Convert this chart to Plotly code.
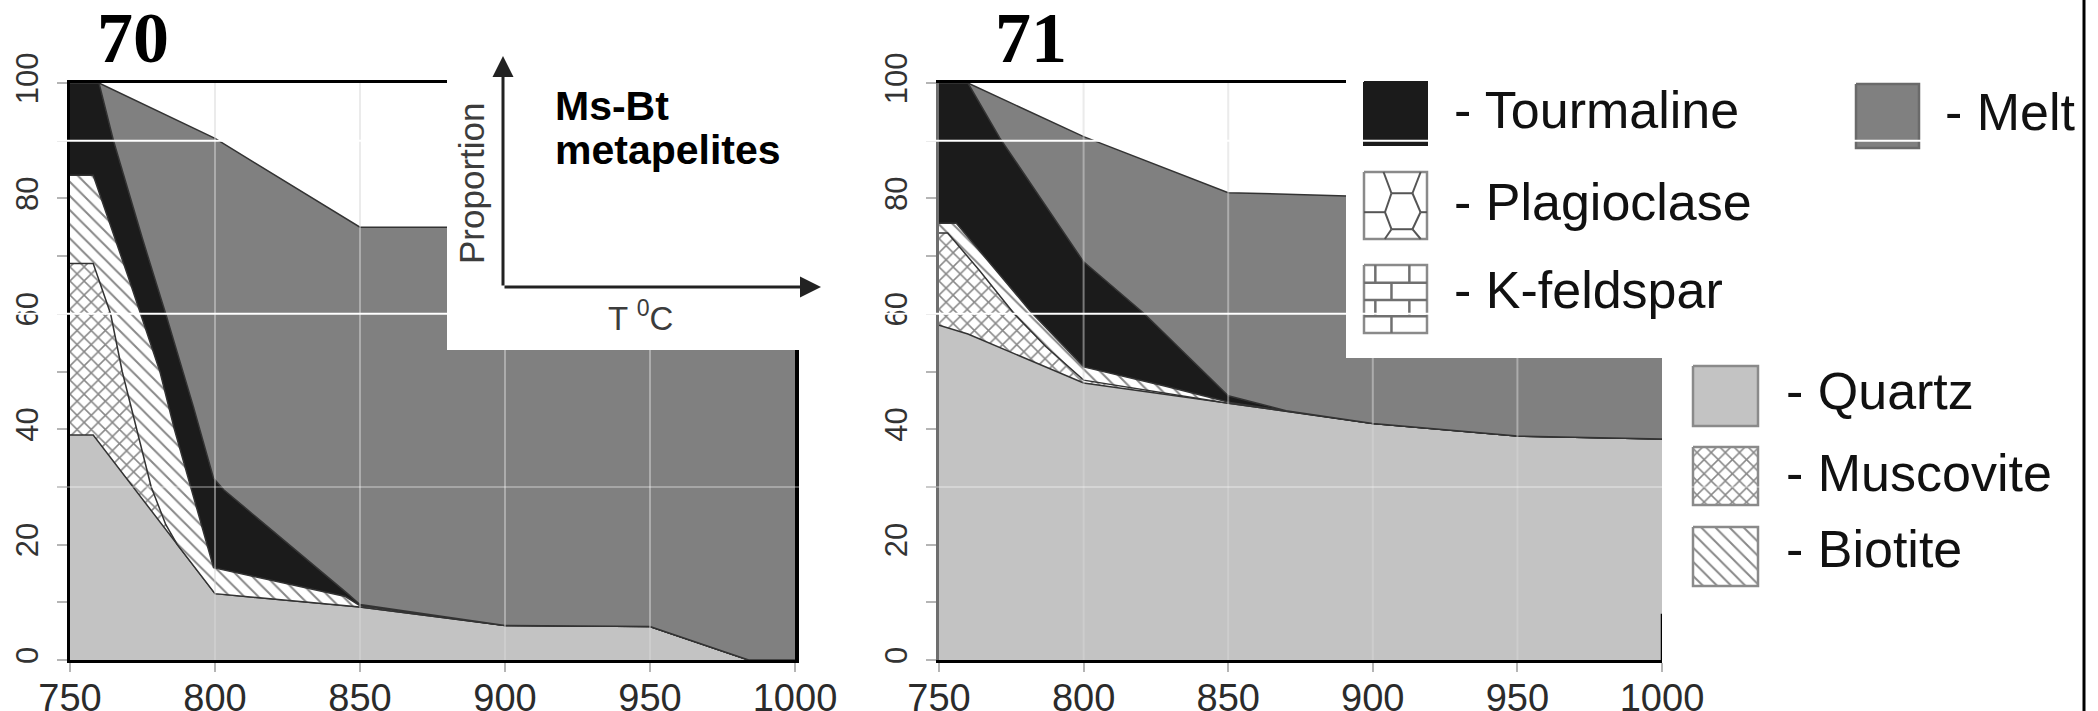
import plotly.graph_objects as go

# ------------------------------------------------------------------
# DATA: cumulative upper boundary (%) of each
# mineral layer versus temperature (deg C); layers stacked bottom->top
# ------------------------------------------------------------------
# Sample 70 (left panel)
T70_QUARTZ = [750, 758, 800, 850, 900, 950, 984, 1000]
Y70_QUARTZ = [39, 39, 11.5, 9.2, 6, 5.8, 0, 0]

T70_MUSCOVITE = [750, 758, 764, 768, 773, 778, 783, 787, 800, 850, 900, 950, 984, 1000]
Y70_MUSCOVITE = [68.7, 68.7, 60, 50, 40, 30, 23.5, 20, 11.5, 9.2, 6, 5.8, 0, 0]

T70_BIOTITE = [750, 758, 770, 781, 786, 799.5, 845, 850, 900, 950, 984, 1000]
Y70_BIOTITE = [84, 84, 66.5, 50, 40, 16, 11, 9.4, 6, 5.8, 0, 0]

T70_TOURMALINE = [750, 760, 765, 775, 783, 792.5, 799.5, 803, 845.5, 850, 900, 950, 984, 1000]
Y70_TOURMALINE = [100, 100, 90, 73, 60, 44, 31.5, 29.5, 11.6, 9.6, 6, 5.8, 0, 0]

T70_MELT = [750, 760, 800, 850, 1000]
Y70_MELT = [100, 100, 90.4, 75, 75]

# Sample 71 (right panel)
T71_QUARTZ = [750, 760, 800, 850, 900, 950, 1000]
Y71_QUARTZ = [58, 56.5, 48, 44.5, 41, 38.8, 38.3]

T71_MUSCOVITE = [750, 753, 764, 776, 787, 800, 850, 900, 950, 1000]
Y71_MUSCOVITE = [74, 74, 67.5, 60, 54.3, 48.5, 44.5, 41, 38.8, 38.3]

T71_BIOTITE = [750, 756, 781.5, 800, 828, 851, 900, 950, 1000]
Y71_BIOTITE = [75.7, 75.7, 60.5, 50.8, 47.5, 44.6, 41, 38.8, 38.3]

T71_TOURMALINE = [750, 760, 771, 800, 821, 850, 870, 900, 950, 1000]
Y71_TOURMALINE = [100, 100, 90.5, 69, 60, 45.8, 43.2, 41, 38.8, 38.3]

T71_MELT = [750, 760, 800, 850, 900, 1000]
Y71_MELT = [100, 100, 90.7, 81, 80.3, 80]

X_TICKS = [750, 800, 850, 900, 950, 1000]
Y_TICKS = [0, 20, 40, 60, 80, 100]
Y_MINOR = [10, 30, 50, 70, 90]
X_GRID = [800, 850, 900, 950]
PANEL_LABELS = ["70", "71"]
LEGEND_COL1 = ["Tourmaline", "Plagioclase", "K-feldspar"]
LEGEND_COL2 = ["Melt"]
LEGEND_COL3 = ["Quartz", "Muscovite", "Biotite"]

# ------------------------------------------------------------------
# STYLE / GEOMETRY
# ------------------------------------------------------------------
W, H = 2098, 711
PX_L = (70, 795)      # left panel plot area x (px)
PX_R = (939, 1662)    # right panel plot area x (px)
PY = (83, 660)        # plot area y top/bottom (px)

C_QTZ = "#c3c3c3"
C_MELT = "#808080"
C_TOUR = "#1b1b1b"
EDGE = "#333333"
SANS = "Liberation Sans, Arial, sans-serif"
NARROW = "Liberation Sans Narrow, Arial Narrow, Liberation Sans, Arial, sans-serif"

PAT_MS = dict(shape="x", bgcolor="white", fgcolor="#111111", size=10, solidity=0.28)
PAT_BT = dict(shape="\\", bgcolor="white", fgcolor="#111111", size=10, solidity=0.2)


def dom_x(px):
    return [px[0] / W, px[1] / W]


DOM_Y = [(H - PY[1]) / H, (H - PY[0]) / H]

fig = go.Figure()


def add_panel(xa, ya, layers):
    for i, (xs, ys, col, pat) in enumerate(layers):
        kw = dict(fillcolor=col)
        if pat is not None:
            kw["fillpattern"] = pat
        fig.add_trace(go.Scatter(
            x=xs, y=ys, xaxis=xa, yaxis=ya, mode="lines",
            line=dict(color=EDGE, width=1.5),
            fill="tozeroy" if i == 0 else "tonexty",
            showlegend=False, hoverinfo="skip", **kw))
    # light vertical reference lines drawn over the areas
    gx, gy = [], []
    for v in X_GRID:
        gx += [v, v, None]
        gy += [0, 100, None]
    fig.add_trace(go.Scatter(x=gx, y=gy, xaxis=xa, yaxis=ya, mode="lines",
                             line=dict(color="rgba(215,215,215,0.5)", width=2),
                             showlegend=False, hoverinfo="skip"))


add_panel("x", "y", [
    (T70_QUARTZ, Y70_QUARTZ, C_QTZ, None),
    (T70_MUSCOVITE, Y70_MUSCOVITE, "white", PAT_MS),
    (T70_BIOTITE, Y70_BIOTITE, "white", PAT_BT),
    (T70_TOURMALINE, Y70_TOURMALINE, C_TOUR, None),
    (T70_MELT, Y70_MELT, C_MELT, None),
])
add_panel("x2", "y2", [
    (T71_QUARTZ, Y71_QUARTZ, C_QTZ, None),
    (T71_MUSCOVITE, Y71_MUSCOVITE, "white", PAT_MS),
    (T71_BIOTITE, Y71_BIOTITE, "white", PAT_BT),
    (T71_TOURMALINE, Y71_TOURMALINE, C_TOUR, None),
    (T71_MELT, Y71_MELT, C_MELT, None),
])

# ------------------------------------------------------------------
# overlay (pixel-coordinate) layer: white inset / legend boxes + swatches
# ------------------------------------------------------------------
def rect(x0, y0, x1, y1, fill, line_col=None, lw=0, pattern=None):
    kw = dict(fillcolor=fill)
    if pattern is not None:
        kw["fillpattern"] = pattern
    fig.add_trace(go.Scatter(
        x=[x0, x1, x1, x0, x0], y=[y0, y0, y1, y1, y0], xaxis="x3", yaxis="y3",
        mode="lines", fill="toself",
        line=dict(color=line_col or fill, width=lw),
        showlegend=False, hoverinfo="skip", **kw))


def segs(pairs, x0, y0, x1, y1, color="#707070", width=2):
    xs, ys = [], []
    for (u0, w0), (u1, w1) in pairs:
        xs += [x0 + u0 * (x1 - x0), x0 + u1 * (x1 - x0), None]
        ys += [y0 + w0 * (y1 - y0), y0 + w1 * (y1 - y0), None]
    fig.add_trace(go.Scatter(x=xs, y=ys, xaxis="x3", yaxis="y3", mode="lines",
                             line=dict(color=color, width=width),
                             showlegend=False, hoverinfo="skip"))


# inset box (left panel) and legend box (right panel)
rect(447, 0, 830, 350, "white")
rect(1346, 0, 2098, 358, "white")

SW = 63  # swatch size (px)
COL1_X, COL2_X, COL3_X = 1364, 1856, 1693
ROW1_Y = [82, 172, 265]
ROW3_Y = [366, 447, 527]

# legend column 1: Tourmaline, Plagioclase, K-feldspar
rect(COL1_X, ROW1_Y[0], COL1_X + SW, ROW1_Y[0] + SW, C_TOUR, C_TOUR, 2)
rect(COL1_X, ROW1_Y[1], COL1_X + SW, ROW1_Y[1] + 67, "white", "#8a8a8a", 2.5)
hexv = [(0.436, 0.317), (0.769, 0.317), (0.897, 0.6), (0.769, 0.854), (0.436, 0.854), (0.333, 0.6)]
hex_pairs = [(hexv[i], hexv[(i + 1) % 6]) for i in range(6)]
hex_pairs += [(hexv[0], (0.31, 0.0)), (hexv[1], (0.9, 0.0)), (hexv[5], (0.0, 0.6)),
              (hexv[2], (1.0, 0.6)), (hexv[4], (0.33, 1.0)), (hexv[3], (0.9, 1.0))]
segs(hex_pairs, COL1_X, ROW1_Y[1], COL1_X + SW, ROW1_Y[1] + 67, "#555555", 2)
rect(COL1_X, ROW1_Y[2], COL1_X + SW, ROW1_Y[2] + 68, "white", "#8a8a8a", 2.5)
brick = []
rows = [0.0, 0.262, 0.514, 0.752, 1.0]
for w in rows[1:-1]:
    brick.append(((0, w), (1, w)))
for r in range(4):
    cols = [0.18, 0.72] if r % 2 == 0 else [0.436]
    for u in cols:
        brick.append(((u, rows[r]), (u, rows[r + 1])))
segs(brick, COL1_X, ROW1_Y[2], COL1_X + SW, ROW1_Y[2] + 68, "#707070", 2.5)

# legend column 2: Melt
rect(COL2_X, 84, COL2_X + SW, 84 + 64, C_MELT, "#6a6a6a", 2.5)

# legend column 3: Quartz, Muscovite, Biotite
rect(COL3_X, ROW3_Y[0], COL3_X + 65, ROW3_Y[0] + 60, C_QTZ, "#8a8a8a", 2.5)
rect(COL3_X, ROW3_Y[1], COL3_X + 65, ROW3_Y[1] + 58, "white", "#8a8a8a", 2.5, PAT_MS)
rect(COL3_X, ROW3_Y[2], COL3_X + 65, ROW3_Y[2] + 59, "white", "#8a8a8a", 2.5, PAT_BT)

# ------------------------------------------------------------------
# axes
# ------------------------------------------------------------------
def xaxis(px, line_col):
    return dict(domain=dom_x(px), range=[750, 1000], tickvals=X_TICKS,
                ticks="outside", ticklen=9, tickwidth=2, tickcolor="#b5b5b5",
                showgrid=False, zeroline=False, showline=True, linecolor=line_col,
                linewidth=3, mirror=True, ticklabelstandoff=-7, automargin=False,
                tickfont=dict(family=NARROW, size=38, color="#2b2b2b"), fixedrange=True)


def yaxis(anchor, line_col, mirror):
    return dict(domain=DOM_Y, range=[0, 100], tickvals=Y_TICKS, anchor=anchor,
                ticks="outside", ticklen=10, tickwidth=2, tickcolor="#b5b5b5",
                minor=dict(tickvals=Y_MINOR, ticks="outside", ticklen=10,
                           tickwidth=2, tickcolor="#b5b5b5"),
                showgrid=False, zeroline=False, showline=True, linecolor=line_col,
                linewidth=3.5, mirror=mirror, tickangle=-90, ticklabelstandoff=6,
                automargin=False,
                tickfont=dict(family=SANS, size=31, color="#333333"), fixedrange=True)


layout = dict(
    width=W, height=H,
    margin=dict(l=0, r=0, t=0, b=0, pad=0, autoexpand=False),
    paper_bgcolor="white", plot_bgcolor="rgba(0,0,0,0)", showlegend=False,
    xaxis=xaxis(PX_L, "black"), yaxis=yaxis("x", "black", True),
    xaxis2=dict(xaxis(PX_R, "black"), anchor="y2"),
    yaxis2=yaxis("x2", "#6e6e6e", False),
    xaxis3=dict(domain=[0, 1], range=[0, W], visible=False, fixedrange=True,
                anchor="y3", automargin=False),
    yaxis3=dict(domain=[0, 1], range=[H, 0], visible=False, fixedrange=True,
                anchor="x3", automargin=False),
)
layout["xaxis"]["anchor"] = "y"
fig.update_layout(**layout)

# ------------------------------------------------------------------
# shapes drawn on top (scan lines across the figure, borders)
# ------------------------------------------------------------------
shapes = [
    dict(type="line", xref="paper", x0=0, x1=1, yref="y", y0=90, y1=90,
         line=dict(color="white", width=2), layer="above"),
    dict(type="line", xref="paper", x0=0, x1=1, yref="y", y0=60, y1=60,
         line=dict(color="white", width=2), layer="above"),
    dict(type="line", xref="paper", x0=0, x1=1, yref="y", y0=30, y1=30,
         line=dict(color="rgba(255,255,255,0.3)", width=2), layer="above"),
    dict(type="line", xref="paper", x0=2084 / W, x1=2084 / W, yref="paper", y0=0, y1=1,
         line=dict(color="black", width=3), layer="above"),
    dict(type="line", xref="x2", x0=1000, x1=1000, yref="y2", y0=0, y1=8,
         line=dict(color="black", width=2.5), layer="above"),
]
fig.update_layout(shapes=shapes)

# ------------------------------------------------------------------
# text
# ------------------------------------------------------------------
ann = []


def txt(x, y, s, size, family=SANS, color="#111111", xanchor="left", **kw):
    ann.append(dict(x=x, y=y, xref="x3", yref="y3", text=s, showarrow=False,
                    xanchor=xanchor, yanchor="middle",
                    font=dict(family=family, size=size, color=color), **kw))


SERIF = "Liberation Serif, Times New Roman, serif"
txt(133, 38, "<b>%s</b>" % PANEL_LABELS[0], 72, SERIF, "black", "center")
txt(1031, 38, "<b>%s</b>" % PANEL_LABELS[1], 72, SERIF, "black", "center")

# inset
txt(553, 106, "<b>Ms-Bt</b>", 41, SANS, "black")
txt(553, 150, "<b>metapelites</b>", 41, SANS, "black")
txt(471, 184, "Proportion", 35, SANS, "#3c3c3c", "center", textangle=-90)
txt(640, 316, "T <sup>0</sup>C", 33, SANS, "#3c3c3c", "center")
for (tx, ty) in [(503, 56), (821, 287)]:
    ann.append(dict(x=tx, y=ty, xref="x3", yref="y3", ax=503, ay=287,
                    axref="x3", ayref="y3", text="", showarrow=True,
                    arrowhead=2, arrowsize=1.4, arrowwidth=3, arrowcolor="#222222",
                    standoff=0, startstandoff=0))

# legend labels
LEG_TX1 = 1452
for name, yc in zip(LEGEND_COL1, [110, 202, 290]):
    txt(LEG_TX1, yc, "- " + name, 52)
txt(1943, 112, "- " + LEGEND_COL2[0], 52)
for name, yc in zip(LEGEND_COL3, [391, 473, 549]):
    txt(1784, yc, "- " + name, 52)

fig.update_layout(annotations=ann)

fig.write_html(
    "out.html",
    config={"displayModeBar": False, "staticPlot": True},
    post_script="document.body.style.margin='0px';document.body.style.overflow='hidden';",
)
